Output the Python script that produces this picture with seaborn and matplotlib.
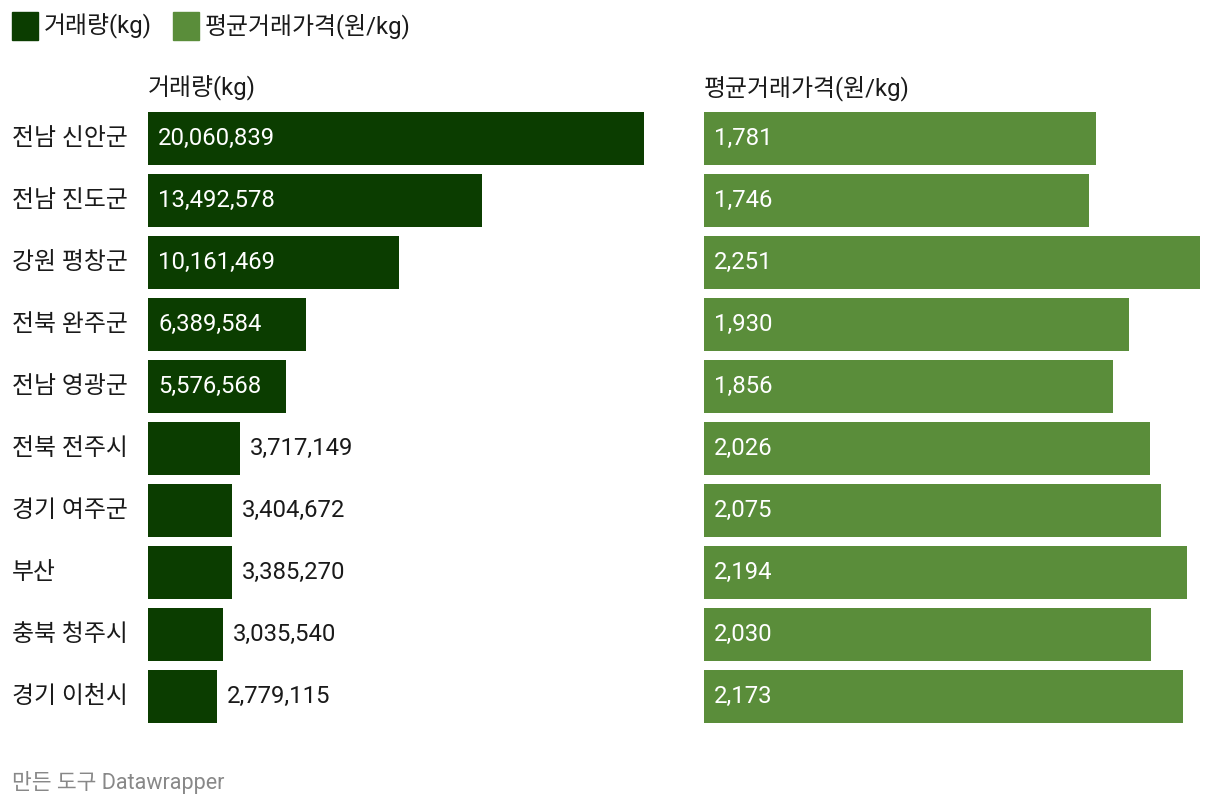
import pandas as pd
import matplotlib.pyplot as plt
import seaborn as sns

# 데이터
regions = ['전남 신안군', '전남 진도군', '강원 평창군', '전북 완주군', '전남 영광군',
           '전북 전주시', '경기 여주군', '부산', '충북 청주시', '경기 이천시']
volume = [20060839, 13492578, 10161469, 6389584, 5576568,
          3717149, 3404672, 3385270, 3035540, 2779115]
price = [1781, 1746, 2251, 1930, 1856, 2026, 2075, 2194, 2030, 2173]

df = pd.DataFrame({'region': regions, 'volume': volume, 'price': price})

dark = '#0b3d00'
light = '#5a8d3a'

sns.set_style('white')
plt.rcParams['font.family'] = ['Roboto', 'Noto Sans CJK KR', 'DejaVu Sans']

fig = plt.figure(figsize=(12.2, 8.08), dpi=100)
ax1 = fig.add_axes([148/1220, 1 - 727.5/808, 496/1220, 620/808])
ax2 = fig.add_axes([704/1220, 1 - 727.5/808, 496/1220, 620/808])

sns.barplot(data=df, x='volume', y='region', color=dark, width=0.855,
            saturation=1, linewidth=0, ax=ax1)
sns.barplot(data=df, x='price', y='region', color=light, width=0.855,
            saturation=1, linewidth=0, ax=ax2)

fs = 17.2
for ax, col, vmax in [(ax1, 'volume', max(volume)), (ax2, 'price', max(price))]:
    ax.set_xlim(0, vmax)
    ax.set_ylim(9.5, -0.5)
    ax.set_xlabel('')
    ax.set_ylabel('')
    ax.set_xticks([])
    ax.set_yticks([])
    for s in ax.spines.values():
        s.set_visible(False)
    ax.patch.set_alpha(0)
    pad = vmax * 10 / 496
    for i, v in enumerate(df[col]):
        frac = v / vmax
        if frac > 0.2:
            ax.text(pad, i, f'{v:,}', color='white', va='center', ha='left', fontsize=fs)
        else:
            ax.text(v + pad, i, f'{v:,}', color='#1a1a1a', va='center', ha='left', fontsize=fs)

# 지역 이름
for i, r in enumerate(regions):
    ax1.text(-136 / 496 * max(volume), i, r, va='center', ha='left', fontsize=fs, color='#1a1a1a')

# 컬럼 헤더
fig.text(148/1220, 1 - 88/808, '거래량(kg)', fontsize=fs, va='center', ha='left', color='#1a1a1a')
fig.text(704/1220, 1 - 88/808, '평균거래가격(원/kg)', fontsize=fs, va='center', ha='left', color='#1a1a1a')

# 범례
fig.patches.append(plt.Rectangle((12/1220, 1 - 40/808), 26/1220, 28/808,
                                 transform=fig.transFigure, color=dark))
fig.text(44/1220, 1 - 26/808, '거래량(kg)', fontsize=fs, va='center', ha='left', color='#1a1a1a')
fig.patches.append(plt.Rectangle((173/1220, 1 - 40/808), 26/1220, 28/808,
                                 transform=fig.transFigure, color=light))
fig.text(205/1220, 1 - 26/808, '평균거래가격(원/kg)', fontsize=fs, va='center', ha='left', color='#1a1a1a')

# 출처
fig.text(12/1220, 1 - 782/808, '만든 도구 Datawrapper', fontsize=15.5, va='center', ha='left', color='#888888')

fig.savefig('out.png', dpi=100)
